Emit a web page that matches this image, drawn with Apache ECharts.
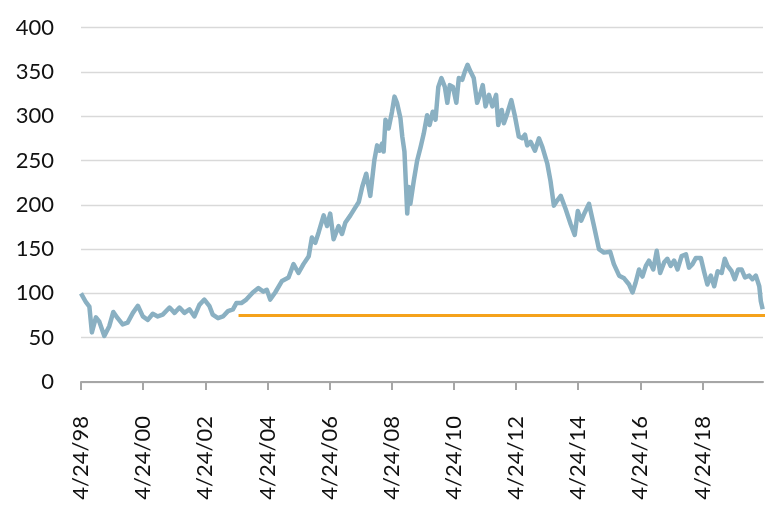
<!DOCTYPE html>
<html>
<head>
<meta charset="utf-8">
<script src="https://cdn.jsdelivr.net/npm/echarts@6.0.0/dist/echarts.min.js"></script>
<style>
	html, body { margin: 0; padding: 0; background: #fff; }
	#report_1 { width: 778px; height: 518px; }
</style>
</head>
<body>
<div id="report_1"></div>
<script>
// x = years after 4/24/98
var years = [0, 0.16, 0.27, 0.35, 0.48, 0.59, 0.75, 0.91, 1.04, 1.18, 1.34, 1.50, 1.67, 1.83, 1.99, 2.15, 2.31, 2.47, 2.63, 2.85, 3.01, 3.17, 3.33, 3.49, 3.65, 3.81, 3.97, 4.13, 4.24, 4.41, 4.57, 4.73, 4.89, 5.00, 5.16, 5.32, 5.53,
	5.71, 5.87, 5.98, 6.09, 6.25, 6.47, 6.68, 6.84, 7.00, 7.16, 7.33, 7.43, 7.54, 7.65, 7.81, 7.92, 8.02, 8.13, 8.29, 8.40, 8.51, 8.67, 8.83, 8.94, 9.05, 9.18, 9.31, 9.44, 9.53, 9.61, 9.69, 9.74, 9.80, 9.90, 10.01, 10.09, 10.17, 10.28, 10.34, 10.41, 10.50,
	10.55, 10.60, 10.71, 10.82, 10.93, 11.03, 11.14, 11.22, 11.32, 11.41, 11.50, 11.60, 11.71, 11.79, 11.87, 11.97, 12.08, 12.16, 12.27, 12.35, 12.44, 12.54, 12.64, 12.75, 12.86, 12.93, 13.02, 13.13, 13.24, 13.36, 13.43, 13.54, 13.61, 13.72, 13.85, 13.96, 14.09, 14.20, 14.29, 14.36, 14.47, 14.61, 14.74, 14.85, 15.01, 15.11, 15.22, 15.33, 15.44,
	15.60, 15.76, 15.89, 15.99, 16.10, 16.21, 16.35, 16.51, 16.67, 16.83, 17.03, 17.15, 17.32, 17.48, 17.64, 17.75, 17.85, 17.96, 18.07, 18.18, 18.28, 18.42, 18.53, 18.64, 18.77, 18.87, 18.98, 19.09, 19.20, 19.33, 19.47, 19.57, 19.68, 19.79, 19.95, 20.05, 20.16, 20.27, 20.38, 20.49, 20.62, 20.72, 20.81, 20.94, 21.04, 21.15, 21.26, 21.37, 21.51, 21.61, 21.72, 21.83, 21.88, 21.94];

var values = [100, 90, 85, 56, 73, 68, 52, 63, 79, 72, 65, 67, 78, 86, 74, 70, 77, 74, 76, 84, 78, 84, 78, 82, 74, 87, 93, 86, 76, 72, 74, 80, 82, 89, 89, 93, 101,
	106, 102, 104, 93, 101, 114, 118, 133, 123, 133, 142, 163, 157, 169, 188, 176, 190, 161, 176, 167, 180, 188, 197, 203, 220, 235, 210, 250, 267, 261, 269, 260, 296, 286, 305, 322, 315, 298, 277, 260, 190,
	220, 201, 227, 250, 265, 280, 301, 290, 305, 296, 333, 343, 333, 315, 335, 333, 315, 343, 341, 350, 358, 350, 343, 315, 326, 335, 311, 324, 311, 324, 290, 307, 292, 303, 318, 301, 277, 275, 279, 267, 271, 261, 275, 265, 246, 227, 199, 205, 210,
	195, 178, 166, 193, 182, 191, 201, 176, 150, 146, 147, 133, 120, 117, 110, 101, 112, 127, 119, 131, 137, 127, 148, 123, 135, 139, 131, 137, 127, 142, 144, 129, 133, 140, 140, 125, 110, 120, 108, 125, 123, 139, 131, 125, 116, 127, 127, 118, 120, 116, 120, 108, 91, 82];

// orange reference level
var floorYears = [5.07, 22.16];
var floorLevel = 75;

var tickYears = [0, 2, 4, 6, 8, 10, 12, 14, 16, 18, 20];
var tickLabels = ['4/24/98', '4/24/00', '4/24/02', '4/24/04', '4/24/06', '4/24/08', '4/24/10', '4/24/12', '4/24/14', '4/24/16', '4/24/18'];

function drawChart(id) {
	var mainData = [];
	for (var i = 0; i < years.length; i++) {
		mainData.push([years[i], values[i]]);
	}
	var floorData = [];
	for (var j = 0; j < floorYears.length; j++) {
		floorData.push([floorYears[j], floorLevel]);
	}

	var font = 'Lato, "Open Sans", sans-serif';
	var option = {
		animation : false,
		grid : {
			left : 81,
			right : 15,
			top : 27.5,
			bottom : 136
		},
		xAxis : {
			type : 'value',
			min : 0,
			max : 21.95,
			interval : 2,
			axisLine : {
				lineStyle : { color : '#A6A6A6', width : 2 }
			},
			axisTick : {
				show : true,
				length : 8,
				customValues : tickYears,
				lineStyle : { color : '#A6A6A6', width : 2 }
			},
			axisLabel : {
				rotate : 90,
				margin : 34,
				fontSize : 22,
				fontFamily : font,
				color : '#111',
				customValues : tickYears,
				formatter : function(v) {
					var k = Math.round(v / 2);
					return tickLabels[k] || '';
				}
			},
			splitLine : { show : false }
		},
		yAxis : {
			type : 'value',
			min : 0,
			max : 400,
			interval : 50,
			axisLine : { show : false },
			axisTick : { show : false },
			axisLabel : {
				margin : 27,
				fontSize : 22,
				fontFamily : font,
				color : '#111'
			},
			splitLine : {
				lineStyle : { color : '#D9D9D9', width : 1.3 }
			}
		},
		series : [ {
			type : 'line',
			data : floorData,
			showSymbol : false,
			clip : false,
			lineStyle : { color : '#F5A21B', width : 3 },
			z : 2
		}, {
			type : 'line',
			data : mainData,
			showSymbol : false,
			lineStyle : { color : '#8AB0C2', width : 4.5, join : 'round' },
			z : 3
		} ]
	};
	var dom = document.getElementById(id);
	var myChart = echarts.init(dom);
	myChart.setOption(option, true);
}

drawChart('report_1');
</script>
</body>
</html>
